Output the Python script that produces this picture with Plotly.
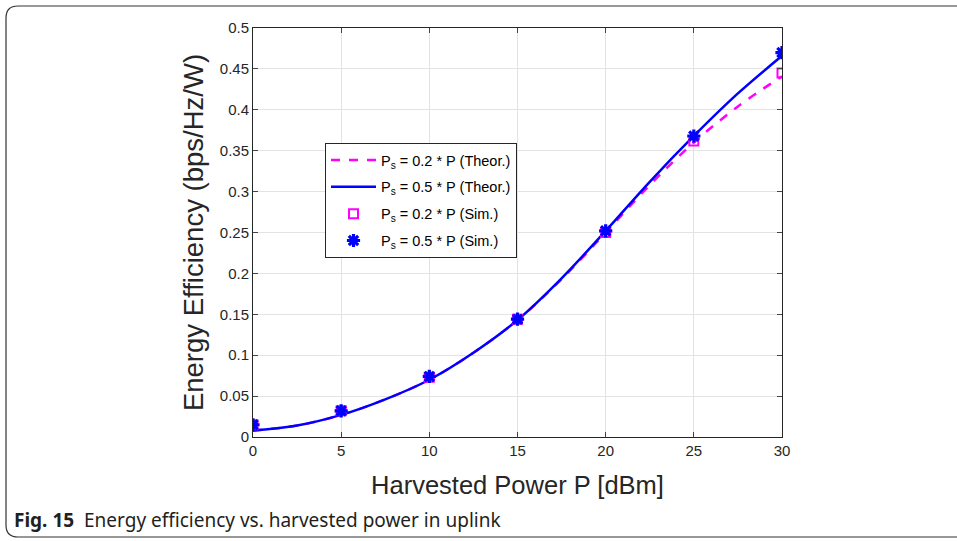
import plotly.graph_objects as go

# ---- data ----
x_theor = [0, 2.5, 5, 7.5, 10, 12.5, 15, 17.5, 20, 22.5, 25, 27.5, 30]
ee_02_theor = [0.008, 0.014, 0.027, 0.046, 0.070, 0.103, 0.143, 0.193, 0.250, 0.308, 0.360, 0.404, 0.441]
ee_05_theor = [0.008, 0.014, 0.027, 0.046, 0.070, 0.103, 0.143, 0.194, 0.252, 0.312, 0.368, 0.420, 0.466]
x_sim = [0, 5, 10, 15, 20, 25, 30]
ee_02_sim = [0.015, 0.032, 0.073, 0.144, 0.250, 0.362, 0.445]
ee_05_sim = [0.015, 0.032, 0.074, 0.144, 0.252, 0.368, 0.470]
x_ticks = [0, 5, 10, 15, 20, 25, 30]
y_ticks = [0, 0.05, 0.1, 0.15, 0.2, 0.25, 0.3, 0.35, 0.4, 0.45, 0.5]
y_tick_text = ["0", "0.05", "0.1", "0.15", "0.2", "0.25", "0.3", "0.35", "0.4", "0.45", "0.5"]

MAG = "#FF00FF"
BLUE = "#0000FF"
FONT = "Liberation Sans, Arial, sans-serif"

fig = go.Figure()
fig.add_trace(go.Scatter(x=x_theor, y=ee_02_theor, mode="lines", line=dict(color=MAG, width=2.5, dash="dash", shape="spline"),
                         name="P<sub>s</sub> = 0.2 * P (Theor.)", legendgroup="a"))
fig.add_trace(go.Scatter(x=x_theor, y=ee_05_theor, mode="lines", line=dict(color=BLUE, width=2.5, shape="spline"),
                         name="P<sub>s</sub> = 0.5 * P (Theor.)", legendgroup="b"))
fig.add_trace(go.Scatter(x=x_sim, y=ee_02_sim, mode="markers",
                         marker=dict(symbol="square-open", color=MAG, size=9, line=dict(width=2, color=MAG)),
                         name="P<sub>s</sub> = 0.2 * P (Sim.)", legendgroup="c"))
fig.add_trace(go.Scatter(x=x_sim, y=ee_05_sim, mode="markers",
                         marker=dict(symbol="asterisk-open", color=BLUE, size=11, line=dict(width=3.2, color=BLUE)),
                         name="P<sub>s</sub> = 0.5 * P (Sim.)", legendgroup="d"))

# plot area pixel geometry
L, R, T, B = 253, 782, 28, 437
W, H = 957, 541
def px(xp):
    return (xp - L) / (R - L)
def py(yp):
    return (B - yp) / (B - T)

# rounded border
x0, y0, x1, y1, r = 6, 6, 975, 537, 12
path = (f"M {px(x1)},{py(y0)} L {px(x0 + r)},{py(y0)} Q {px(x0)},{py(y0)} {px(x0)},{py(y0 + r)} "
        f"L {px(x0)},{py(y1 - r)} Q {px(x0)},{py(y1)} {px(x0 + r)},{py(y1)} L {px(x1)},{py(y1)}")

fig.update_layout(
    width=W, height=H,
    margin=dict(l=L, r=W - R, t=T, b=H - B),
    paper_bgcolor="white", plot_bgcolor="white",
    font=dict(family=FONT, color="#262626"),
    showlegend=True,
    legend=dict(x=px(325), y=py(143), xanchor="left", yanchor="top",
                bgcolor="white", bordercolor="#262626", borderwidth=1,
                font=dict(size=14.5, color="#000000", family=FONT),
                itemwidth=45, tracegroupgap=5),
    shapes=[dict(type="path", xref="paper", yref="paper", path=path,
                 line=dict(color="#333333", width=1.2), layer="below")],
    annotations=[
        dict(text="<b>Fig. 15</b>  Energy efficiency vs. harvested power in uplink",
             xref="paper", yref="paper", x=px(12), y=py(520), xanchor="left", yanchor="middle",
             showarrow=False, font=dict(family="Noto Sans, Open Sans, sans-serif", size=19, color="#231f20")),
    ],
)
fig.update_xaxes(range=[0, 30], tickvals=x_ticks, ticks="inside", ticklen=5, mirror="ticks",
                 showline=True, linecolor="#262626", linewidth=1, showgrid=True, gridcolor="#e3e3e3",
                 zeroline=False, tickfont=dict(size=15, color="#262626"),
                 title=dict(text="Harvested Power P [dBm]", font=dict(size=25.5, color="#262626"), standoff=18))
fig.update_yaxes(range=[0, 0.5], tickvals=y_ticks, ticktext=y_tick_text, ticks="inside", ticklen=5, mirror="ticks",
                 showline=True, linecolor="#262626", linewidth=1, showgrid=True, gridcolor="#e3e3e3",
                 zeroline=False, tickfont=dict(size=15, color="#262626"),
                 title=dict(text="Energy Efficiency (bps/Hz/W)", font=dict(size=27.5, color="#262626"), standoff=8))

fig.write_html("out.html")
